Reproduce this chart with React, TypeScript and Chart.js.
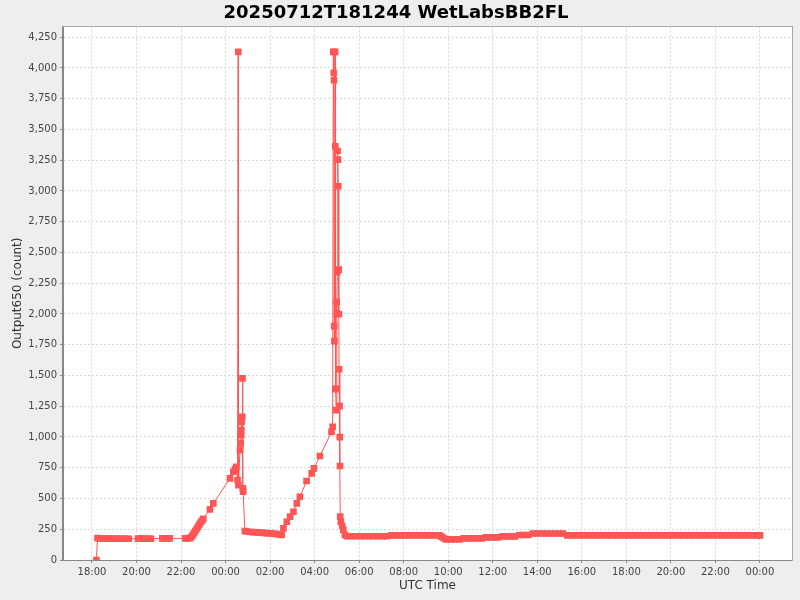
import React, { useEffect, useRef } from "react";
import { Chart, registerables } from "chart.js";

Chart.register(...registerables);

const chartTitle = "20250712T181244 WetLabsBB2FL";
const xAxisTitle = "UTC Time";
const yAxisTitle = "Output650 (count)";

// x tick positions: hours since 2025-07-12 00:00 UTC
const xTickHours = [18, 20, 22, 24, 26, 28, 30, 32, 34, 36, 38, 40, 42, 44, 46, 48];
const yTickValues = [0, 250, 500, 750, 1000, 1250, 1500, 1750, 2000, 2250, 2500, 2750, 3000, 3250, 3500, 3750, 4000, 4250];

// Evening baseline (18:12 - 22:24)
const eveningHours = [18.20, 18.25, 18.35, 18.45, 18.55, 18.65, 18.75, 18.85, 18.95, 19.05, 19.15, 19.25, 19.35, 19.45, 19.55, 19.65, 20.07, 20.17, 20.27, 20.37, 20.47, 20.57, 20.65, 21.16, 21.26, 21.36, 21.49, 22.19, 22.29, 22.40];
const eveningCounts = [0, 178, 175, 174, 174, 174, 174, 173, 173, 173, 173, 173, 173, 173, 173, 173, 174, 174, 174, 173, 173, 173, 173, 176, 176, 176, 176, 176, 176, 178];

// Rise and first spike (22:27 - 00:52)
const firstPeakHours = [22.45, 22.52, 22.58, 22.64, 22.70, 22.76, 22.82, 22.88, 22.94, 23.00, 23.30, 23.45, 24.20, 24.35, 24.42, 24.48, 24.54, 24.57, 24.58, 24.65, 24.68, 24.70, 24.71, 24.72, 24.75, 24.76, 24.78, 24.79, 24.87];
const firstPeakCounts = [185, 200, 218, 235, 252, 270, 288, 305, 320, 335, 412, 460, 664, 717, 737, 758, 650, 4130, 609, 894, 950, 1015, 1056, 1123, 1164, 1476, 582, 555, 236];

// Trough and second rise (00:57 - 04:50)
const troughHours = [24.95, 25.10, 25.25, 25.40, 25.55, 25.70, 25.85, 26.00, 26.15, 26.30, 26.45, 26.52, 26.60, 26.75, 26.90, 27.05, 27.20, 27.34, 27.64, 27.87, 27.97, 28.24, 28.76, 28.81];
const troughCounts = [232, 228, 226, 224, 222, 220, 218, 216, 214, 210, 206, 203, 257, 311, 352, 392, 460, 514, 642, 704, 745, 845, 1042, 1083];

// Second spike cluster (04:50 - 05:22)
const secondPeakHours = [28.84, 28.86, 28.87, 28.88, 28.89, 28.92, 28.93, 28.94, 28.95, 28.97, 28.99, 29.00, 29.02, 29.03, 29.05, 29.06, 29.08, 29.09, 29.10, 29.12, 29.13, 29.14, 29.15, 29.18, 29.24, 29.29, 29.36];
const secondPeakCounts = [4130, 3960, 3900, 1901, 1779, 4130, 3363, 1389, 1392, 1218, 2098, 2006, 2342, 3325, 3255, 3038, 2360, 1998, 1551, 1251, 999, 764, 352, 311, 276, 244, 203];

// Daytime baseline (05:27 - 00:00)
const dayHours = [
  29.45, 29.65, 29.85, 30.05, 30.25, 30.45, 30.65, 30.85, 31.05, 31.25,
  31.45, 31.65, 31.85, 32.05, 32.25, 32.45, 32.65, 32.85, 33.05, 33.25, 33.45, 33.60,
  33.70, 33.80, 33.90, 34.10, 34.30, 34.50,
  34.70, 34.90, 35.10, 35.30, 35.50,
  35.70, 35.90, 36.10, 36.25,
  36.45, 36.65, 36.85, 37.00,
  37.20, 37.40, 37.60,
  37.80, 38.00, 38.20, 38.40, 38.60, 38.80, 39.00, 39.15,
  39.35, 39.60, 39.85, 40.10, 40.35, 40.60, 40.85, 41.10, 41.35, 41.60, 41.85, 42.10,
  42.35, 42.60, 42.85, 43.10, 43.35, 43.60, 43.85, 44.10, 44.35, 44.60, 44.85, 45.10,
  45.35, 45.60, 45.85, 46.10, 46.35, 46.60, 46.85, 47.10, 47.35, 47.60, 47.85, 48.00,
];
const dayCounts = [
  193, 193, 193, 193, 193, 193, 193, 193, 193, 193,
  200, 200, 200, 200, 200, 200, 200, 200, 200, 200, 200, 200,
  190, 178, 168, 168, 168, 168,
  176, 176, 176, 176, 176,
  184, 184, 184, 184,
  192, 192, 192, 192,
  203, 203, 203,
  215, 215, 215, 215, 215, 215, 215, 215,
  200, 200, 200, 200, 200, 200, 200, 200, 200, 200, 200, 200,
  200, 200, 200, 200, 200, 200, 200, 200, 200, 200, 200, 200,
  200, 200, 200, 200, 200, 200, 200, 200, 200, 200, 200, 200,
];

const allHours = [...eveningHours, ...firstPeakHours, ...troughHours, ...secondPeakHours, ...dayHours];
const allCounts = [...eveningCounts, ...firstPeakCounts, ...troughCounts, ...secondPeakCounts, ...dayCounts];

const SERIES_COLOR = "#ff5555";

function fmtHour(v: number): string {
  const h = ((Math.round(v) % 24) + 24) % 24;
  return String(h).padStart(2, "0") + ":00";
}
function fmtThousands(v: number): string {
  return String(Math.round(v)).replace(/\B(?=(\d{3})+(?!\d))/g, ",");
}

const backgroundPlugin = {
  id: "jfreeBackground",
  beforeDraw(chart: any) {
    const { ctx, chartArea } = chart;
    ctx.save();
    ctx.fillStyle = "#eeeeee";
    ctx.fillRect(0, 0, chart.width, chart.height);
    ctx.fillStyle = "#ffffff";
    ctx.fillRect(chartArea.left, chartArea.top, chartArea.right - chartArea.left, chartArea.bottom - chartArea.top);
    ctx.restore();
  },
  afterDatasetsDraw(chart: any) {
    const { ctx, chartArea } = chart;
    ctx.save();
    ctx.strokeStyle = "#a8a8a8";
    ctx.lineWidth = 1;
    ctx.strokeRect(
      Math.round(chartArea.left) - 0.5,
      Math.round(chartArea.top) - 0.5,
      Math.round(chartArea.right - chartArea.left) + 1,
      Math.round(chartArea.bottom - chartArea.top) + 1
    );
    ctx.strokeStyle = "#888888";
    ctx.beginPath();
    ctx.moveTo(Math.round(chartArea.left) - 0.5, Math.round(chartArea.top));
    ctx.lineTo(Math.round(chartArea.left) - 0.5, Math.round(chartArea.bottom) + 0.5);
    ctx.lineTo(Math.round(chartArea.right), Math.round(chartArea.bottom) + 0.5);
    ctx.stroke();
    ctx.restore();
  },
};

export default function App() {
  const canvasRef = useRef<HTMLCanvasElement | null>(null);

  useEffect(() => {
    document.body.style.margin = "0";
    const canvas = canvasRef.current;
    if (!canvas) return;
    const data = allHours.map((h, i) => ({ x: h, y: allCounts[i] }));

    const chart = new Chart(canvas, {
      type: "line",
      data: {
        datasets: [
          {
            label: "Output650",
            data,
            borderColor: SERIES_COLOR,
            backgroundColor: SERIES_COLOR,
            borderWidth: 1,
            pointStyle: "rect",
            pointRadius: 4.7,
            pointBorderWidth: 0,
            pointBackgroundColor: SERIES_COLOR,
            pointBorderColor: SERIES_COLOR,
            fill: false,
            tension: 0,
          },
        ],
      },
      options: {
        animation: false,
        responsive: false,
        devicePixelRatio: 1,
        parsing: false,
        normalized: true,
        layout: { padding: { left: 0, right: 8, top: 0, bottom: 0 } },
        plugins: {
          legend: { display: false },
          tooltip: { enabled: false },
          title: {
            display: true,
            text: chartTitle,
            color: "#000000",
            font: { family: "'DejaVu Sans', sans-serif", size: 18, weight: "bold" },
            padding: { top: 3, bottom: 2 },
          },
        },
        scales: {
          x: {
            type: "linear",
            min: 16.70,
            max: 49.44,
            afterBuildTicks: (scale: any) => {
              scale.ticks = xTickHours.map((v) => ({ value: v }));
            },
            afterFit: (scale: any) => {
              scale.height = 40;
            },
            ticks: {
              autoSkip: false,
              maxRotation: 0,
              minRotation: 0,
              padding: 3,
              color: "#444444",
              font: { family: "'DejaVu Sans', sans-serif", size: 10 },
              callback: (v: any) => fmtHour(Number(v)),
            },
            grid: {
              color: "#d8d8d8",
              lineWidth: 1,
              tickColor: "#888888",
              tickLength: 3,
              drawTicks: true,
            },
            border: { display: true, color: "#888888", dash: [2, 2] },
            title: {
              display: true,
              text: xAxisTitle,
              color: "#333333",
              font: { family: "'DejaVu Sans', sans-serif", size: 12 },
              padding: { top: 0, bottom: 7 },
            },
          },
          y: {
            type: "linear",
            min: 0,
            max: 4336,
            afterBuildTicks: (scale: any) => {
              scale.ticks = yTickValues.map((v) => ({ value: v }));
            },
            afterFit: (scale: any) => {
              scale.width = 63;
            },
            ticks: {
              autoSkip: false,
              padding: 3,
              color: "#444444",
              font: { family: "'DejaVu Sans', sans-serif", size: 10 },
              callback: (v: any) => fmtThousands(Number(v)),
            },
            grid: {
              color: "#d8d8d8",
              lineWidth: 1,
              tickColor: "#888888",
              tickLength: 3,
              drawTicks: true,
            },
            border: { display: true, color: "#888888", dash: [2, 2] },
            title: {
              display: true,
              text: yAxisTitle,
              color: "#333333",
              font: { family: "'DejaVu Sans', sans-serif", size: 12 },
              padding: { top: 11, bottom: 0 },
            },
          },
        },
      },
      plugins: [backgroundPlugin],
    });

    return () => chart.destroy();
  }, []);

  return (
    <div style={{ width: 800, height: 600 }}>
      <canvas ref={canvasRef} width={800} height={600} style={{ display: "block", width: 800, height: 600 }} />
    </div>
  );
}
